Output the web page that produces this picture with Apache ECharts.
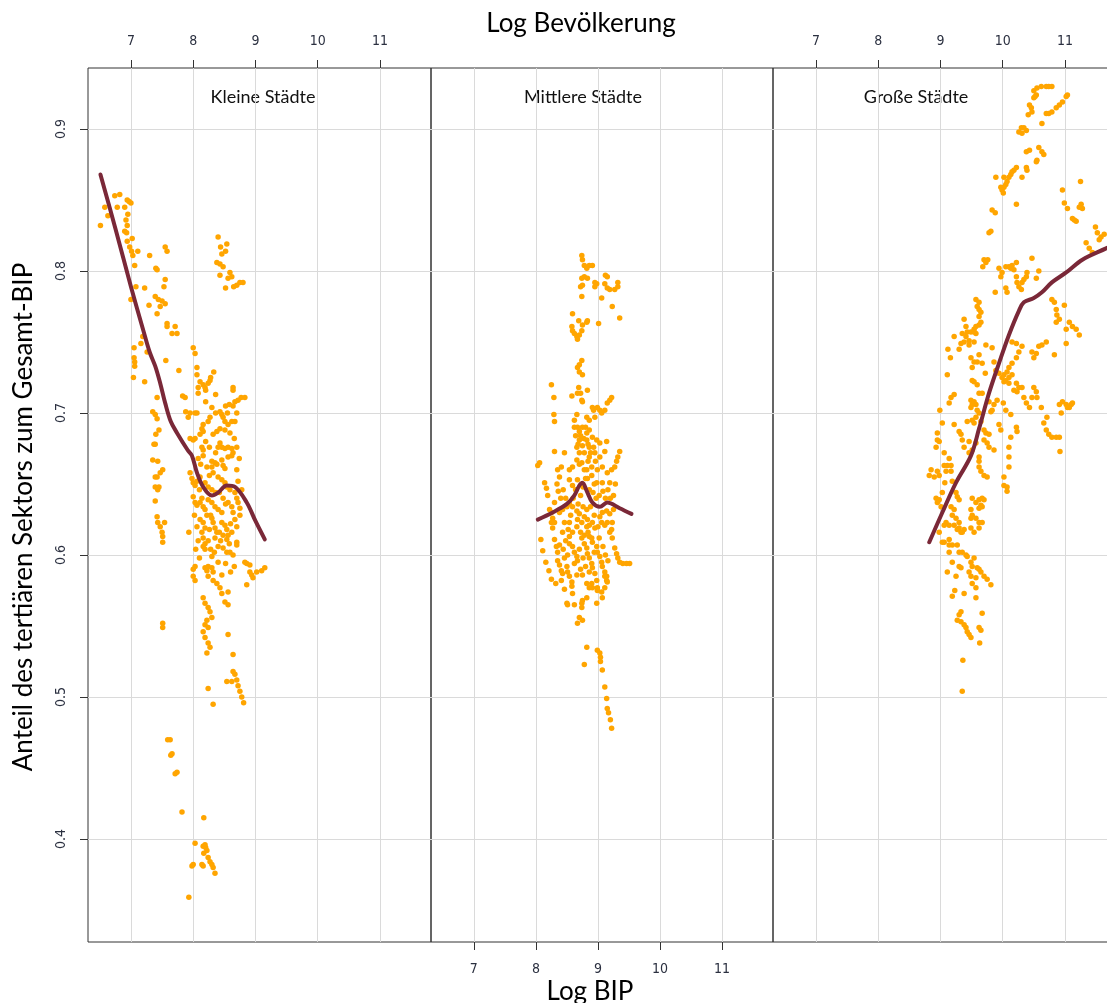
<!DOCTYPE html>
<html><head><meta charset="utf-8">
<script src="https://cdn.jsdelivr.net/npm/echarts@6/dist/echarts.min.js"></script>
<style>html,body{margin:0;padding:0;background:#fff}#c{width:1107px;height:1003px}</style>
</head><body><div id="c"></div>
<script>
const panelNames = ['Kleine Städte', 'Mittlere Städte', 'Große Städte'];
const xTitle = 'Log BIP';
const xTopTitle = 'Log Bevölkerung';
const yTitle = 'Anteil des tertiären Sektors zum Gesamt-BIP';
const xTicks = [7, 8, 9, 10, 11];
const yTicks = [0.4, 0.5, 0.6, 0.7, 0.8, 0.9];
const xRange = [6.31, 11.82];
const yRange = [0.3275, 0.943];

const kleinePunkte = [
[6.51,0.832],[6.58,0.845],[6.63,0.839],[6.74,0.853],[6.82,0.854],[6.78,0.845],[6.94,0.850],[6.97,0.849],[7.0,0.848],[6.9,0.845],
[6.95,0.840],[6.92,0.836],[6.94,0.832],[6.9,0.828],[6.93,0.827],[6.94,0.821],[6.98,0.817],[7.01,0.814],[7.03,0.811],[7.02,0.823],
[7.11,0.814],[7.06,0.804],[7.3,0.811],[7.55,0.817],[7.58,0.814],[7.4,0.802],[7.42,0.801],[7.55,0.794],[7.53,0.789],[7.08,0.789],
[7.22,0.788],[7.0,0.780],[7.39,0.782],[7.44,0.780],[7.5,0.779],[7.55,0.777],[7.29,0.776],[7.47,0.775],[7.42,0.770],[7.58,0.763],
[7.58,0.761],[7.71,0.761],[7.74,0.756],[7.66,0.756],[7.05,0.746],[7.05,0.739],[7.06,0.736],[7.06,0.733],[7.04,0.725],[7.16,0.749],
[7.19,0.754],[7.26,0.743],[7.56,0.737],[7.22,0.722],[7.77,0.730],[7.42,0.711],[7.39,0.699],[7.42,0.696],[7.45,0.688],[7.4,0.685],
[7.39,0.678],[8.0,0.746],[8.03,0.742],[8.06,0.732],[8.06,0.727],[8.08,0.718],[8.11,0.722],[8.16,0.720],[8.19,0.718],[8.2,0.716],
[8.24,0.721],[8.27,0.723],[8.28,0.725],[8.33,0.729],[7.83,0.712],[7.87,0.711],[8.2,0.708],[8.36,0.713],[8.52,0.705],[8.64,0.718],
[8.64,0.716],[8.64,0.705],[8.67,0.708],[8.72,0.709],[8.77,0.711],[8.83,0.711],[7.88,0.701],[7.95,0.700],[8.03,0.700],[8.06,0.700],
[7.92,0.697],[8.4,0.824],[8.44,0.817],[8.54,0.819],[8.52,0.814],[8.46,0.812],[8.38,0.806],[8.43,0.805],[8.48,0.803],[8.43,0.797],
[8.59,0.799],[8.62,0.796],[8.56,0.795],[8.52,0.788],[8.65,0.789],[8.7,0.790],[8.75,0.792],[8.8,0.792],[8.08,0.714],[7.35,0.701],
[8.43,0.701],[8.46,0.699],[8.48,0.697],[8.51,0.694],[8.56,0.692],[8.62,0.694],[8.67,0.694],[8.27,0.697],[8.24,0.694],[8.16,0.692],
[8.14,0.689],[8.16,0.687],[8.11,0.685],[8.32,0.685],[8.38,0.687],[8.43,0.689],[8.51,0.688],[8.59,0.686],[7.95,0.682],[8.0,0.681],
[8.03,0.682],[7.37,0.678],[8.14,0.676],[8.16,0.674],[8.16,0.670],[8.43,0.679],[8.46,0.676],[8.51,0.675],[8.56,0.676],[8.62,0.675],
[8.64,0.672],[8.62,0.670],[8.56,0.669],[8.3,0.666],[8.35,0.665],[8.3,0.662],[8.46,0.667],[8.48,0.663],[8.51,0.661],[7.35,0.667],
[7.43,0.666],[7.51,0.660],[7.47,0.658],[7.42,0.655],[7.39,0.655],[7.39,0.648],[7.43,0.646],[7.45,0.648],[7.39,0.638],[7.95,0.658],
[7.98,0.654],[8.0,0.651],[8.03,0.649],[8.11,0.655],[8.19,0.651],[8.24,0.648],[8.3,0.646],[8.32,0.658],[8.4,0.655],[8.46,0.653],
[8.51,0.651],[8.54,0.648],[8.59,0.646],[8.67,0.644],[8.7,0.640],[8.72,0.637],[8.75,0.633],[8.75,0.628],[8.0,0.641],[8.03,0.637],
[8.06,0.635],[8.11,0.637],[8.16,0.634],[8.19,0.632],[8.22,0.628],[8.24,0.639],[8.3,0.637],[8.35,0.634],[8.4,0.632],[8.46,0.630],
[8.56,0.637],[8.62,0.634],[8.64,0.630],[7.42,0.627],[7.43,0.623],[7.47,0.620],[7.5,0.616],[7.51,0.613],[7.51,0.609],[7.54,0.623],
[8.11,0.625],[8.16,0.623],[8.19,0.619],[8.14,0.616],[8.16,0.612],[8.19,0.608],[8.3,0.626],[8.32,0.623],[8.35,0.619],[8.38,0.616],
[8.35,0.612],[8.46,0.623],[8.51,0.621],[8.54,0.618],[8.56,0.614],[8.54,0.611],[8.67,0.625],[8.7,0.620],[7.93,0.616],[8.16,0.606],
[8.19,0.604],[8.4,0.606],[8.48,0.605],[8.54,0.602],[8.7,0.607],[8.7,0.609],[8.3,0.599],[8.4,0.595],[8.59,0.602],[8.83,0.595],
[8.86,0.594],[8.91,0.593],[8.0,0.585],[8.03,0.582],[8.19,0.591],[8.22,0.589],[8.24,0.592],[8.3,0.591],[8.32,0.588],[8.24,0.585],
[8.32,0.582],[8.38,0.580],[8.43,0.577],[8.46,0.573],[8.56,0.574],[8.91,0.588],[8.94,0.586],[8.96,0.584],[9.02,0.588],[9.1,0.589],
[9.15,0.591],[8.86,0.579],[8.16,0.570],[8.19,0.566],[8.24,0.563],[8.27,0.560],[8.3,0.556],[8.22,0.554],[8.19,0.551],[8.24,0.549],
[8.16,0.546],[8.19,0.542],[8.56,0.544],[7.51,0.552],[7.51,0.549],[8.0,0.590],[8.03,0.592],[8.24,0.538],[8.27,0.535],[8.51,0.567],
[8.56,0.565],[8.22,0.531],[8.64,0.530],[8.64,0.518],[8.67,0.516],[8.7,0.512],[8.72,0.508],[8.75,0.504],[8.78,0.500],[8.81,0.496],
[8.54,0.511],[8.62,0.511],[8.24,0.506],[8.32,0.495],[7.59,0.470],[7.63,0.470],[7.66,0.460],[7.64,0.459],[7.74,0.447],[7.71,0.446],
[7.82,0.419],[8.17,0.415],[8.03,0.397],[8.16,0.395],[8.19,0.396],[8.2,0.394],[8.17,0.390],[8.22,0.392],[8.24,0.387],[8.27,0.384],
[8.3,0.382],[8.32,0.380],[8.35,0.376],[7.98,0.381],[8.0,0.382],[8.14,0.382],[8.16,0.381],[7.93,0.359],
[8.20,0.680],[8.26,0.676],[8.22,0.662],[8.26,0.656],[8.36,0.672],[8.40,0.676],[8.38,0.664],[8.42,0.644],[8.48,0.640],[8.52,0.636],
[8.36,0.644],[8.28,0.628],[8.26,0.618],[8.24,0.610],[8.28,0.604],[8.34,0.602],[8.42,0.616],[8.44,0.610],[8.48,0.614],[8.60,0.622],
[8.62,0.616],[8.58,0.608],[8.64,0.600],[8.66,0.592],[8.60,0.588],[8.52,0.594],[8.46,0.586],[8.14,0.640],[8.10,0.646],[8.06,0.652],
[8.12,0.664],[8.08,0.668],[8.70,0.660],[8.72,0.652],[8.78,0.646],[8.66,0.682],[8.70,0.676],[8.74,0.668],[8.55,0.700],[8.58,0.706],
[8.70,0.700],[8.36,0.700],[8.30,0.704],[8.02,0.628],[8.06,0.620],[8.08,0.610],[8.04,0.604],[8.10,0.598]
];

const mittlerePunkte = [
[8.74,0.811],[8.75,0.808],[8.78,0.804],[8.82,0.802],[8.86,0.804],[8.91,0.804],[8.74,0.795],[8.78,0.796],[8.83,0.795],[8.72,0.789],
[8.75,0.790],[8.95,0.792],[8.98,0.791],[8.95,0.789],[9.12,0.797],[9.15,0.796],[9.11,0.791],[9.15,0.788],[9.19,0.787],[9.27,0.787],
[9.32,0.792],[9.32,0.789],[8.74,0.782],[9.06,0.781],[9.23,0.775],[9.35,0.767],[8.59,0.770],[8.58,0.761],[8.59,0.758],[8.62,0.756],
[8.66,0.754],[8.67,0.752],[8.70,0.755],[8.74,0.758],[8.75,0.762],[8.82,0.764],[8.83,0.765],[8.69,0.765],[9.01,0.763],[8.74,0.737],
[8.70,0.734],[8.67,0.732],[8.70,0.729],[8.75,0.727],[8.25,0.720],[8.69,0.718],[8.72,0.714],[8.67,0.714],[8.58,0.712],[8.83,0.716],
[8.29,0.711],[8.74,0.709],[8.75,0.708],[8.91,0.704],[8.93,0.702],[8.99,0.704],[9.03,0.702],[9.06,0.700],[9.11,0.702],[9.15,0.707],
[9.19,0.709],[9.22,0.711],[8.29,0.699],[8.30,0.694],[8.66,0.699],[8.62,0.695],[8.82,0.697],[8.86,0.695],[8.95,0.697],[8.67,0.690],
[8.70,0.687],[8.75,0.690],[8.82,0.686],[8.86,0.688],[8.91,0.683],[8.70,0.681],[8.75,0.677],[8.82,0.681],[8.86,0.676],[8.98,0.681],
[9.03,0.679],[9.14,0.680],[8.66,0.676],[8.70,0.672],[8.78,0.672],[8.86,0.669],[8.95,0.672],[9.03,0.669],[9.11,0.673],[9.35,0.673],
[9.32,0.669],[9.30,0.666],[9.27,0.662],[9.22,0.660],[9.15,0.658],[9.07,0.662],[8.99,0.660],[8.90,0.662],[8.82,0.660],[8.74,0.665],
[8.66,0.667],[8.59,0.662],[8.54,0.660],[8.46,0.672],[8.30,0.673],[8.41,0.662],[8.35,0.660],[8.38,0.655],[8.06,0.665],[8.03,0.663],
[8.14,0.651],[8.54,0.653],[8.59,0.649],[8.67,0.653],[8.83,0.654],[8.98,0.651],[9.07,0.651],[9.19,0.651],[8.17,0.647],[8.19,0.642],
[8.30,0.637],[8.22,0.632],[8.25,0.630],[8.27,0.626],[8.25,0.623],[8.30,0.623],[8.27,0.619],[8.38,0.630],[8.43,0.632],[8.50,0.634],
[8.54,0.636],[8.59,0.634],[8.46,0.623],[8.54,0.623],[8.66,0.631],[8.70,0.629],[8.67,0.625],[8.74,0.623],[8.66,0.620],[8.78,0.627],
[8.83,0.625],[8.82,0.620],[8.86,0.621],[8.91,0.623],[8.95,0.619],[9.03,0.627],[9.07,0.630],[9.14,0.631],[9.19,0.629],[9.15,0.623],
[9.11,0.621],[9.06,0.623],[9.23,0.623],[9.22,0.618],[9.19,0.616],[9.23,0.612],[8.43,0.616],[8.54,0.613],[8.59,0.616],[8.30,0.611],
[8.33,0.606],[8.38,0.607],[8.35,0.602],[8.54,0.608],[8.59,0.606],[8.62,0.602],[8.66,0.599],[8.67,0.596],[8.74,0.612],[8.78,0.608],
[8.82,0.605],[8.83,0.601],[8.86,0.598],[8.90,0.594],[8.91,0.591],[8.95,0.587],[8.98,0.582],[8.99,0.577],[8.86,0.613],[8.91,0.609],
[8.98,0.606],[8.99,0.602],[9.03,0.599],[9.06,0.595],[9.07,0.592],[9.11,0.588],[9.14,0.585],[9.15,0.581],[9.27,0.605],[9.30,0.601],
[9.32,0.598],[9.35,0.595],[9.40,0.594],[9.46,0.594],[9.51,0.594],[8.35,0.596],[8.38,0.593],[8.41,0.589],[8.43,0.587],[8.41,0.582],
[8.46,0.598],[8.51,0.600],[8.50,0.592],[8.51,0.588],[8.54,0.585],[8.58,0.581],[8.58,0.578],[8.75,0.586],[8.82,0.580],[8.86,0.577],
[8.90,0.580],[8.91,0.577],[8.99,0.575],[9.06,0.574],[9.11,0.577],[9.14,0.582],[9.11,0.585],[9.07,0.570],[8.59,0.573],[8.62,0.565],
[8.51,0.565],[8.50,0.566],[8.74,0.566],[8.74,0.563],[8.75,0.568],[8.82,0.570],[8.70,0.556],[8.67,0.552],[8.75,0.554],[8.98,0.566],
[8.82,0.535],[8.78,0.523],[8.99,0.533],[9.03,0.531],[9.04,0.528],[9.04,0.525],[9.07,0.519],[9.11,0.507],[9.14,0.499],[9.15,0.492],
[9.17,0.489],[9.20,0.484],[9.22,0.478],[8.11,0.603],[8.16,0.595],[8.21,0.589],[8.25,0.583],[8.32,0.580],[8.08,0.611],[8.46,0.576],
[8.62,0.690],[8.64,0.684],[8.68,0.678],[8.72,0.684],[8.77,0.682],[8.80,0.690],[8.84,0.678],[8.88,0.672],[8.93,0.676],[8.96,0.666],
[8.70,0.664],[8.78,0.660],[8.84,0.666],[8.90,0.656],[8.94,0.650],[8.76,0.648],[8.80,0.654],[8.86,0.646],[8.92,0.644],[8.97,0.640],
[8.72,0.642],[8.64,0.646],[8.60,0.640],[8.68,0.636],[8.76,0.634],[8.82,0.632],[8.88,0.634],[8.94,0.628],[9.00,0.620],[8.72,0.616],
[8.78,0.614],[8.84,0.616],[8.90,0.612],[8.94,0.602],[8.70,0.604],[8.76,0.598],[8.80,0.592],[8.86,0.588],[8.72,0.590],[8.66,0.586],
[8.62,0.594],[8.48,0.640],[8.44,0.646],[8.40,0.640],[8.36,0.645],[8.34,0.650],[8.56,0.628],[8.52,0.618],[8.48,0.610],[8.44,0.604],
[9.02,0.612],[9.08,0.606],[9.12,0.600],[9.16,0.596],[9.02,0.642],[9.08,0.645],[9.12,0.640],[9.16,0.646],[9.20,0.640],[9.25,0.642],
[9.28,0.650],[9.25,0.632]
];

const grossePunkte = [
[10.50,0.927],[10.54,0.924],[10.55,0.929],[10.62,0.930],[10.70,0.930],[10.74,0.930],[10.79,0.930],[10.50,0.922],[10.52,0.923],
[10.70,0.911],[10.74,0.911],[10.79,0.912],[10.86,0.915],[10.91,0.917],[10.96,0.919],[11.02,0.923],[11.04,0.924],
[10.43,0.917],[10.46,0.915],[10.41,0.910],[10.47,0.912],[10.63,0.904],[10.30,0.901],[10.34,0.901],[10.26,0.898],[10.31,0.897],[10.38,0.899],
[10.38,0.884],[10.43,0.885],[10.58,0.887],[10.63,0.884],[10.66,0.882],[10.55,0.878],[10.54,0.877],
[10.22,0.873],[10.18,0.871],[10.15,0.870],[10.13,0.868],[10.10,0.866],[10.07,0.863],[10.05,0.861],[10.02,0.859],[9.97,0.859],[9.99,0.857],[10.01,0.855],
[9.89,0.866],[10.02,0.866],[10.38,0.873],[10.39,0.871],[10.31,0.866],[10.22,0.847],[9.83,0.843],[9.88,0.841],[9.81,0.828],[9.78,0.827],
[9.70,0.808],[9.76,0.808],[9.68,0.803],[9.73,0.806],[9.94,0.802],[9.99,0.799],[9.97,0.796],
[10.05,0.803],[10.10,0.803],[10.15,0.804],[10.22,0.806],[10.18,0.801],[10.13,0.802],[10.47,0.809],[10.58,0.800],[10.54,0.795],
[10.22,0.796],[10.23,0.792],[10.26,0.789],[10.30,0.787],[10.31,0.792],[10.34,0.794],[10.38,0.796],[10.39,0.799],
[9.88,0.785],[10.05,0.788],[10.07,0.785],[10.96,0.857],[10.99,0.848],[11.04,0.844],[11.25,0.863],
[11.23,0.845],[11.26,0.847],[11.28,0.844],[11.12,0.837],[11.18,0.835],[11.15,0.836],
[11.49,0.831],[11.52,0.827],[11.58,0.824],[11.63,0.826],[11.55,0.822],[11.34,0.820],[11.39,0.816],[11.44,0.813],
[9.57,0.780],[9.62,0.778],[9.59,0.775],[9.62,0.773],[9.65,0.771],[9.62,0.768],[9.65,0.764],[9.62,0.762],[9.57,0.761],[9.54,0.759],
[9.38,0.766],[9.41,0.761],[9.43,0.757],[9.49,0.757],[9.54,0.757],[9.57,0.756],[9.35,0.756],[9.41,0.754],[9.46,0.751],
[10.79,0.780],[10.83,0.778],[10.86,0.773],[10.87,0.769],[10.86,0.764],[10.99,0.776],[10.91,0.766],[11.02,0.759],[11.07,0.764],[11.12,0.761],[11.18,0.759],[11.23,0.755],
[9.33,0.749],[9.38,0.750],[9.46,0.748],[9.54,0.750],[9.73,0.748],[9.83,0.746],
[10.15,0.750],[10.22,0.749],[10.31,0.747],[10.26,0.743],[10.22,0.739],[10.15,0.735],[10.10,0.732],[10.07,0.729],[10.02,0.727],
[10.58,0.747],[10.63,0.748],[10.70,0.750],[10.47,0.743],[10.50,0.739],[10.54,0.742],[10.83,0.741],[11.02,0.749],
[9.30,0.745],[9.49,0.739],[9.54,0.736],[9.62,0.741],[9.67,0.735],[9.59,0.736],[9.51,0.732],
[9.72,0.728],[9.86,0.736],[9.89,0.730],[9.94,0.728],[9.99,0.725],[10.05,0.723],[10.10,0.725],[10.15,0.727],[10.02,0.722],[10.10,0.721],
[9.11,0.727],[9.51,0.723],[9.54,0.722],[9.59,0.720],
[10.22,0.721],[10.26,0.718],[10.18,0.716],[10.23,0.715],[10.31,0.718],
[10.50,0.718],[10.54,0.715],[10.47,0.711],[10.55,0.711],[10.62,0.704],[10.34,0.711],[10.38,0.707],[10.43,0.704],
[9.62,0.714],[9.67,0.714],[9.14,0.707],[9.22,0.713],[9.17,0.711],
[9.49,0.709],[9.54,0.708],[9.57,0.706],[9.51,0.706],[9.59,0.702],[9.49,0.704],[9.62,0.700],[9.57,0.697],[9.65,0.694],
[9.78,0.708],[9.86,0.706],[9.91,0.709],[9.83,0.702],[9.81,0.701],[10.01,0.707],[10.05,0.702],[10.13,0.699],
[8.99,0.702],[9.03,0.693],[9.22,0.692],[9.30,0.687],[9.33,0.685],[9.43,0.694],[9.51,0.695],[9.54,0.693],
[9.70,0.688],[9.73,0.686],[9.78,0.685],[9.94,0.692],[9.97,0.688],[10.22,0.690],[10.23,0.687],[10.13,0.683],
[10.71,0.697],[10.66,0.693],[10.70,0.688],[10.74,0.685],[10.79,0.683],[10.86,0.683],[10.91,0.683],
[10.91,0.706],[10.96,0.708],[11.02,0.706],[11.07,0.704],[11.10,0.706],[11.12,0.707],[11.04,0.704],[10.94,0.700],[10.92,0.673],
[8.95,0.686],[8.95,0.681],[8.93,0.676],[8.98,0.680],
[9.35,0.681],[9.38,0.676],[9.46,0.680],[9.46,0.672],[9.51,0.674],[9.57,0.679],[9.70,0.681],[9.75,0.679],[9.78,0.676],[9.86,0.674],
[10.10,0.676],[10.10,0.669],[10.10,0.662],
[9.62,0.669],[9.62,0.666],[9.62,0.662],[9.65,0.659],[9.70,0.656],[9.75,0.655],
[9.06,0.672],[9.14,0.668],[9.06,0.663],[9.11,0.663],[9.17,0.663],
[8.85,0.660],[8.82,0.656],[8.90,0.655],[8.95,0.659],[8.98,0.656],[9.09,0.659],[9.17,0.659],[9.07,0.651],[9.19,0.652],
[10.02,0.655],[10.02,0.649],[10.07,0.648],[10.07,0.645],
[9.03,0.644],[9.25,0.644],[9.27,0.641],[9.30,0.639],[8.93,0.640],[8.95,0.637],[8.98,0.639],[9.01,0.634],
[9.51,0.640],[9.57,0.637],[9.62,0.639],[9.67,0.640],[9.70,0.639],[9.65,0.635],[9.62,0.633],[9.67,0.634],
[9.49,0.632],[9.51,0.628],[9.49,0.626],
[9.17,0.634],[9.22,0.632],[9.19,0.628],[9.25,0.626],[9.30,0.623],[9.22,0.621],[9.14,0.621],[9.06,0.621],[9.09,0.623],
[9.57,0.626],[9.62,0.623],[9.67,0.623],
[9.27,0.618],[9.33,0.616],[9.35,0.616],[9.38,0.618],[9.30,0.619],[9.49,0.619],[9.54,0.616],[9.62,0.619],[8.98,0.616],
[9.03,0.609],[9.06,0.609],[9.14,0.607],[9.19,0.607],[9.27,0.607],[9.14,0.602],[9.14,0.611],
[9.30,0.602],[9.35,0.602],[9.41,0.600],[9.43,0.599],[9.54,0.598],
[9.19,0.595],[9.30,0.592],[9.33,0.591],[9.49,0.595],[9.51,0.592],
[9.59,0.591],[9.62,0.590],[9.65,0.588],[9.70,0.585],[9.75,0.583],[9.81,0.579],
[9.11,0.588],[9.25,0.585],[9.46,0.588],[9.49,0.585],[9.57,0.584],[9.51,0.580],[9.57,0.577],
[9.19,0.571],[9.23,0.575],[9.38,0.573],[9.57,0.570],
[9.67,0.559],[9.65,0.547],[9.62,0.549],
[9.33,0.560],[9.30,0.558],[9.27,0.554],[9.33,0.553],[9.38,0.551],[9.41,0.549],[9.43,0.546],[9.46,0.544],[9.49,0.542],
[9.63,0.538],[9.36,0.526],[9.35,0.504],[9.22,0.754],[9.16,0.739],[9.12,0.745]
];

const kleineLinie = [[6.51,0.868],[6.75,0.830],[7.0,0.789],[7.2,0.758],[7.3,0.743],[7.39,0.733],[7.47,0.721],[7.55,0.707],[7.64,0.694],[7.74,0.686],[7.91,0.674],[7.98,0.670],[8.06,0.658],[8.16,0.648],[8.3,0.642],[8.4,0.644],[8.54,0.649],[8.67,0.648],[8.86,0.637],[9.0,0.624],[9.15,0.611]];
const mittlereLinie = [[8.03,0.625],[8.27,0.630],[8.5,0.636],[8.62,0.642],[8.70,0.649],[8.75,0.651],[8.82,0.645],[8.91,0.637],[9.03,0.634],[9.15,0.637],[9.35,0.633],[9.54,0.629]];
const grosseLinie = [[8.82,0.609],[9.03,0.630],[9.25,0.651],[9.49,0.670],[9.62,0.689],[9.78,0.714],[9.94,0.735],[10.1,0.755],[10.26,0.772],[10.34,0.778],[10.5,0.781],[10.63,0.785],[10.79,0.792],[11.02,0.799],[11.28,0.808],[11.66,0.816],[11.8,0.819]];

const punkte = [kleinePunkte, mittlerePunkte, grossePunkte];
const linien = [kleineLinie, mittlereLinie, grosseLinie];

const panelLeft = [88, 431, 773];
const panelWidth = [343, 342, 343];
const labelFont = "'DejaVu Sans Condensed', 'Liberation Sans', Arial, sans-serif";
const textFont = "Lato, 'Open Sans', sans-serif";

const chart = echarts.init(document.getElementById('c'), null, {renderer: 'canvas'});
const option = {
  animation: false,
  backgroundColor: '#fff',
  grid: [0,1,2].map(i => ({
    left: panelLeft[i], top: 68, width: panelWidth[i], height: 874,
    show: true, borderColor: '#333', borderWidth: 1, backgroundColor: 'transparent',
    containLabel: false, outerBoundsMode: 'none'
  })),
  xAxis: [0,1,2].map(i => ({
    gridIndex: i, type: 'value', min: xRange[0], max: xRange[1],
    position: i === 1 ? 'bottom' : 'top',
    axisLine: {show: false},
    axisTick: {show: true, length: 8, customValues: xTicks, lineStyle: {color: '#333', width: 1}},
    axisLabel: {show: true, customValues: xTicks, margin: 20, color: '#2b3040', fontFamily: labelFont, fontSize: 14},
    splitLine: {show: true, lineStyle: {color: '#dadada', width: 1}}
  })),
  yAxis: [0,1,2].map(i => ({
    gridIndex: i, type: 'value', min: yRange[0], max: yRange[1],
    axisLine: {show: false},
    axisTick: {show: i === 0, length: 8, customValues: yTicks, lineStyle: {color: '#333', width: 1}},
    axisLabel: {show: i === 0, customValues: yTicks, rotate: 90, margin: 20, color: '#2b3040',
      fontFamily: labelFont, fontSize: 14, formatter: v => v.toFixed(1)},
    splitLine: {show: true, lineStyle: {color: '#dadada', width: 1}}
  })),
  series: [
    ...[0,1,2].map(i => ({
      type: 'scatter', xAxisIndex: i, yAxisIndex: i, data: punkte[i],
      symbol: 'circle', symbolSize: 5.5, itemStyle: {color: '#FFA500', opacity: 1},
      silent: true, z: 2
    })),
    ...[0,1,2].map(i => ({
      type: 'line', xAxisIndex: i, yAxisIndex: i, data: linien[i],
      smooth: 0.35, showSymbol: false, symbol: 'none',
      lineStyle: {color: '#7a2838', width: 4, cap: 'round', join: 'round'},
      silent: true, z: 3
    }))
  ],
  graphic: [
    ...panelNames.map((t, i) => ({
      type: 'text', x: [263, 583, 916][i], y: 97,
      style: {text: t, font: '18px ' + textFont, fill: '#111', align: 'center', verticalAlign: 'middle'}
    })),
    {type: 'text', x: 581, y: 24, style: {text: xTopTitle, font: '26px ' + textFont, fill: '#000', align: 'center', verticalAlign: 'middle'}},
    {type: 'text', x: 590, y: 992, style: {text: xTitle, font: '26px ' + textFont, fill: '#000', align: 'center', verticalAlign: 'middle'}},
    {type: 'text', x: 24, y: 517, rotation: Math.PI / 2, style: {text: yTitle, font: '26px ' + textFont, fill: '#000', align: 'center', verticalAlign: 'middle'}}
  ]
};
chart.setOption(option);
</script>
</body></html>
